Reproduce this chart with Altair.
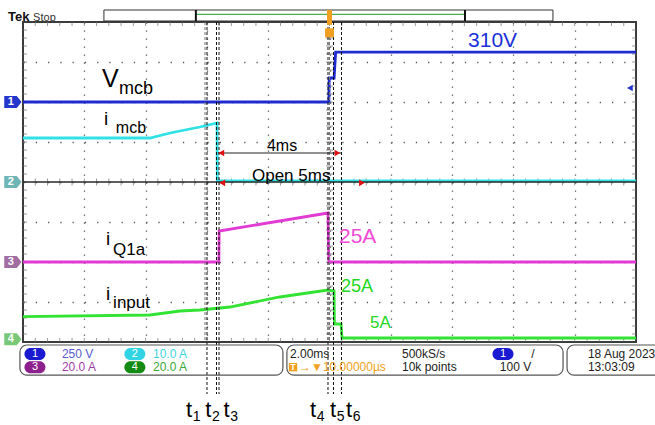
import altair as alt
import pandas as pd

# ---------------- data ----------------
# x: time in ms relative to the trigger (2 ms/div, 10 divisions)
# y: screen divisions (8 divisions, 0 = centre)
ch_names = ["Vmcb", "imcb", "iQ1a", "iinput"]
ch_per_div = [250.0, 10.0, 20.0, 20.0]      # V/div, A/div
ch_ground = [2.0, 0.0, -2.0, -4.0]          # ground marker position (div)
ch_colors = ["#1f2acf", "#30e2e6", "#e23ad4", "#33e333"]

# CH1  V_mcb  (V)
vmcb_t = [-10.0, -0.02, -0.01, 0.15, 0.20, 10.0]
vmcb_v = [0.0, 0.0, 150.0, 150.0, 312.0, 312.0]
# CH2  i_mcb  (A)
imcb_t = [-10.0, -5.86, -5.20, -4.23, -3.67, -3.66, 10.0]
imcb_v = [11.0, 11.0, 12.25, 13.75, 14.75, 0.3, 0.3]
# CH3  i_Q1a  (A)
iq1a_t = [-10.0, -3.61, -3.60, -0.05, -0.02, 10.0]
iq1a_v = [0.0, 0.0, 15.5, 24.5, 0.0, 0.0]
# CH4  i_input (A)
iin_t = [-10.0, -5.86, -4.88, -4.23, -3.25, -1.62, -0.05, 0.15, 0.16, 0.375, 0.41, 10.0]
iin_v = [12.7, 13.5, 15.5, 16.0, 17.5, 22.5, 26.0, 25.5, 9.0, 9.0, 2.0, 2.0]

# cursor / event markers (ms)
event_names = ["t1", "t2", "t3", "t4", "t5", "t6"]
event_t = [-3.997, -3.687, -3.605, -0.049, 0.13, 0.391]
extra_cursor_t = [-4.062, 0.0]

# scope settings text
ch_settings = ["250 V", "10.0 A", "20.0 A", "20.0 A"]
timebase = "2.00ms"
trig_delay = "→▼10.00000µs"
sample_rate = "500kS/s"
record_len = "10k points"
trig_level = "100 V"
date_txt = "18 Aug 2023"
time_txt = "13:03:09"

# ---------------- scales / axes ----------------
XS = alt.Scale(domain=[-10, 10], nice=False, zero=False)
YS = alt.Scale(domain=[-4, 4], nice=False, zero=False)
AX = alt.Axis(title=None, labels=False, ticks=False, domain=False, grid=True,
              values=[-8, -6, -4, -2, 0, 2, 4, 6, 8], gridColor="#5a5a5a",
              gridDash=[1.3, 6.7], gridWidth=1.3, gridOpacity=1)
AY = alt.Axis(title=None, labels=False, ticks=False, domain=False, grid=True,
              values=[-3, -2, -1, 0, 1, 2, 3], gridColor="#5a5a5a",
              gridDash=[1.3, 10.96], gridWidth=1.3, gridOpacity=1)


def X(f):
    return alt.X(f, scale=XS, axis=AX)


def Y(f):
    return alt.Y(f, scale=YS, axis=AY)


def df1(**kw):
    return pd.DataFrame({k: [v] for k, v in kw.items()})


layers = []

# graticule ticks (centre cross and frame)
tick_x = [round(-10 + 0.4 * i, 3) for i in range(1, 50)]
tick_y = [round(-4 + 0.2 * i, 3) for i in range(1, 40)]
for yy, sz in [(0.0, 7), (3.95, 4), (-3.95, 4)]:
    layers.append(alt.Chart(pd.DataFrame({"x": tick_x, "y": [yy] * len(tick_x)}))
                  .mark_tick(orient="vertical", size=sz, thickness=1, color="#707070")
                  .encode(x=X("x:Q"), y=Y("y:Q")))
for xx, sz in [(0.0, 7), (-9.935, 4), (9.935, 4)]:
    layers.append(alt.Chart(pd.DataFrame({"x": [xx] * len(tick_y), "y": tick_y}))
                  .mark_tick(orient="horizontal", size=sz, thickness=1, color="#707070")
                  .encode(x=X("x:Q"), y=Y("y:Q")))

# traces
rows = []
for name, ts, vs, per, g in zip(ch_names, [vmcb_t, imcb_t, iq1a_t, iin_t],
                                [vmcb_v, imcb_v, iq1a_v, iin_v], ch_per_div, ch_ground):
    for i, (t, v) in enumerate(zip(ts, vs)):
        rows.append({"t": t, "div": g + v / per, "ch": name, "idx": i})
traces = pd.DataFrame(rows)
layers.append(alt.Chart(traces).mark_line(strokeWidth=2.8).encode(
    x=X("t:Q"), y=Y("div:Q"),
    color=alt.Color("ch:N", scale=alt.Scale(domain=ch_names, range=ch_colors), legend=None),
    order=alt.Order("idx:Q")))

# CH2 baseline (dark line across the screen)
layers.append(alt.Chart(df1(x=-10, x2=10, y=0)).mark_rule(color="#2a2a2a", strokeWidth=1.3)
              .encode(x=X("x:Q"), x2="x2:Q", y=Y("y:Q")))

# cursor lines
layers.append(alt.Chart(pd.DataFrame({"x": extra_cursor_t, "y": [4] * 2, "y2": [-3.95] * 2}))
              .mark_rule(color="#777777", strokeDash=[3, 2], strokeWidth=1)
              .encode(x=X("x:Q"), y=Y("y:Q"), y2="y2:Q"))
layers.append(alt.Chart(pd.DataFrame({"x": event_t, "y": [4] * 6, "y2": [-5.3] * 6}))
              .mark_rule(color="#111111", strokeDash=[3, 2], strokeWidth=1)
              .encode(x=X("x:Q"), y=Y("y:Q"), y2="y2:Q"))

# 4 ms dimension arrow
layers.append(alt.Chart(df1(x=-3.64, x2=0.375, y=0.725)).mark_rule(color="#222222", strokeWidth=1)
              .encode(x=X("x:Q"), x2="x2:Q", y=Y("y:Q")))
for xx, yy, shp in [(-3.53, 0.725, "triangle-left"), (0.26, 0.725, "triangle-right"),
                    (-3.50, -0.02, "triangle-left"), (1.06, -0.02, "triangle-right")]:
    layers.append(alt.Chart(df1(x=xx, y=yy)).mark_point(shape=shp, filled=True, size=45,
                                                        color="#e01010", opacity=1)
                  .encode(x=X("x:Q"), y=Y("y:Q")))

# channel ground markers on the left
pent = "M-1,-0.7 L0.45,-0.7 L1,0 L0.45,0.7 L-1,0.7 Z"
marker_fill = ["#2436cc", "#6fb5b5", "#a26ea2", "#78c878"]
marker_y = [2.0, 0.0, -2.0, -3.93]
for i in range(4):
    layers.append(alt.Chart(df1(x=-10.33, y=marker_y[i])).mark_point(
        shape=pent, filled=True, size=300, color=marker_fill[i], opacity=1)
        .encode(x=X("x:Q"), y=Y("y:Q")))
    layers.append(alt.Chart(df1(x=-10.40, y=marker_y[i], s=str(i + 1))).mark_text(
        fontSize=11, fontWeight="bold", color="white", align="center", baseline="middle",
        font="Liberation Sans").encode(x=X("x:Q"), y=Y("y:Q"), text="s:N"))

# blue level arrow at right
layers.append(alt.Chart(df1(x=9.80, y=2.35)).mark_point(shape="triangle-left", filled=True,
                                                        size=45, color="#2436cc", opacity=1)
              .encode(x=X("x:Q"), y=Y("y:Q")))

# top record bar
layers.append(alt.Chart(df1(x=-7.36, x2=7.29, y=4.3, y2=4.025)).mark_rect(
    fill="white", stroke="#333333", strokeWidth=1).encode(x=X("x:Q"), x2="x2:Q", y=Y("y:Q"), y2="y2:Q"))
layers.append(alt.Chart(df1(x=-4.36, x2=4.42, y=4.19)).mark_rule(color="#4caf50", strokeWidth=1.2)
              .encode(x=X("x:Q"), x2="x2:Q", y=Y("y:Q")))
layers.append(alt.Chart(pd.DataFrame({"x": [-4.36, 4.42], "y": [4.3] * 2, "y2": [4.025] * 2}))
              .mark_rule(color="#111111", strokeWidth=2).encode(x=X("x:Q"), y=Y("y:Q"), y2="y2:Q"))
layers.append(alt.Chart(df1(x=0.0, y=4.3, y2=3.93)).mark_rule(color="#f0a020", strokeWidth=5)
              .encode(x=X("x:Q"), y=Y("y:Q"), y2="y2:Q"))
layers.append(alt.Chart(df1(x=0.0, y=3.73)).mark_point(shape="square", filled=True, size=80,
                                                       color="#f0a020", opacity=1)
              .encode(x=X("x:Q"), y=Y("y:Q")))

# info boxes at the bottom
for x1, x2 in [(-10.10, -1.52), (-1.39, 7.62), (7.75, 10.9)]:
    layers.append(alt.Chart(df1(x=x1, x2=x2, y=-4.075, y2=-4.83)).mark_rect(
        fill="white", fillOpacity=0, stroke="#555555", strokeWidth=1.2, cornerRadius=7)
        .encode(x=X("x:Q"), x2="x2:Q", y=Y("y:Q"), y2="y2:Q"))

pill = "M-0.45,-0.6 L0.45,-0.6 A0.6,0.6 0 0 1 0.45,0.6 L-0.45,0.6 A0.6,0.6 0 0 1 -0.45,-0.6 Z"
pill_fill = ["#1a1ad0", "#30d4e4", "#8c208c", "#138a13"]
text_col = ["#5a5ad0", "#40d2e2", "#a040a8", "#3aa83a"]
pill_xy = [(-9.61, -4.3), (-6.35, -4.3), (-9.61, -4.63), (-6.35, -4.63)]
txt_x = [-8.73, -5.76, -8.73, -5.76]
for i in range(4):
    px, py = pill_xy[i]
    layers.append(alt.Chart(df1(x=px, y=py)).mark_point(shape=pill, filled=True, size=400,
                                                        color=pill_fill[i], opacity=1)
                  .encode(x=X("x:Q"), y=Y("y:Q")))
    layers.append(alt.Chart(df1(x=px, y=py, s=str(i + 1))).mark_text(
        fontSize=11, color="white", align="center", baseline="middle", font="Liberation Sans")
        .encode(x=X("x:Q"), y=Y("y:Q"), text="s:N"))
    layers.append(alt.Chart(df1(x=txt_x[i], y=py, s=ch_settings[i])).mark_text(
        fontSize=12, color=text_col[i], align="left", baseline="middle", font="Liberation Sans")
        .encode(x=X("x:Q"), y=Y("y:Q"), text="s:N"))

# trigger pill
layers.append(alt.Chart(df1(x=5.66, y=-4.3)).mark_point(shape=pill, filled=True, size=400,
                                                        color="#1a1ad0", opacity=1)
              .encode(x=X("x:Q"), y=Y("y:Q")))
layers.append(alt.Chart(df1(x=-1.19, y=-4.63)).mark_point(shape="square", filled=True, size=70,
                                                          color="#f0a020", opacity=1)
              .encode(x=X("x:Q"), y=Y("y:Q")))


def label(text, x, y, size, color="black", align="left", baseline="alphabetic",
          weight="normal", font="Liberation Sans"):
    return alt.Chart(df1(x=x, y=y, s=text)).mark_text(
        align=align, baseline=baseline, fontSize=size, color=color, fontWeight=weight,
        font=font).encode(x=X("x:Q"), y=Y("y:Q"), text="s:N")


mid = "middle"
layers += [
    label("1", 5.66, -4.3, 11, "white", "center", mid),
    label("/", 6.64, -4.3, 12, "#222222", "center", mid),
    label("T", -1.19, -4.63, 9, "white", "center", mid, "bold"),
    label(timebase, -1.29, -4.3, 12, "#222222", "left", mid),
    label(trig_delay, -0.995, -4.63, 12, "#f0a020", "left", mid),
    label(sample_rate, 2.365, -4.3, 12, "#222222", "left", mid),
    label(record_len, 2.365, -4.63, 12, "#222222", "left", mid),
    label(trig_level, 6.07, -4.63, 12, "#222222", "center", mid),
    label(date_txt, 8.43, -4.3, 12, "#222222", "left", mid),
    label(time_txt, 8.43, -4.63, 12, "#222222", "left", mid),
    label("Tek", -10.49, 4.025, 13, "#111111", "left", "alphabetic", "bold"),
    label("Stop", -9.67, 4.025, 11, "#333333"),
    # annotations
    label("V", -7.42, 2.375, 25),
    label("mcb", -6.87, 2.2, 18),
    label("i", -7.36, 1.425, 19),
    label("mcb", -6.97, 1.225, 16),
    label("i", -7.29, -1.575, 19),
    label("Q1a", -7.06, -1.825, 17),
    label("i", -7.29, -2.95, 19),
    label("input", -7.06, -3.15, 17),
    label("310V", 4.52, 3.375, 21, "#1a30d8"),
    label("25A", 0.31, -1.525, 21, "#f04ad6"),
    label("25A", 0.375, -2.75, 18, "#22d622"),
    label("5A", 1.32, -3.65, 17, "#22d622"),
    label("4ms", -2.04, 0.775, 16),
    label("Open 5ms", -2.53, 0.025, 17),
]

# t1..t6 labels below the screen
t_main_x = [-4.68, -4.05, -3.46, -0.64, 0.02, 0.54]
for name, xm in zip(event_names, t_main_x):
    layers.append(label("t", xm, -5.875, 22))
    layers.append(label(name[1:], xm + 0.22, -5.975, 14))

chart = alt.layer(*layers).properties(
    width=613, height=320,
    autosize=alt.AutoSizeParams(type="none"),
    padding={"left": 23, "top": 22, "right": 19, "bottom": 83},
    background="white",
).configure_view(stroke="#3c3c3c", strokeWidth=2)

chart.save("out.html", embed_options={"renderer": "svg", "actions": False})
